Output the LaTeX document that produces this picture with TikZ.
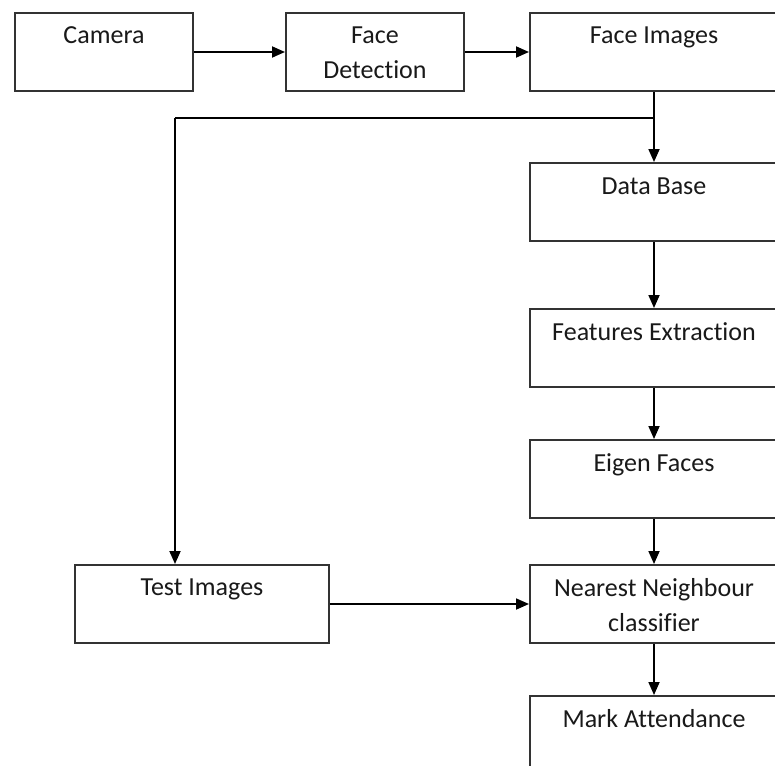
\documentclass[tikz,border=0pt]{standalone}
\usepackage{fontspec}
\setmainfont{Carlito}[Ligatures=NoCommon]
\usetikzlibrary{arrows.meta}
\begin{document}
\begin{tikzpicture}[x=1pt,y=-1pt,
  box/.style={draw=black!80,line width=2pt,minimum width=#1,minimum height=78pt,inner sep=0pt,anchor=north west},
  lbl/.style={anchor=base,inner sep=0pt,text=black!90,font=\fontsize{26}{35}\selectfont},
  arr/.style={line width=1.8pt,-{Triangle[length=13pt,width=11pt]}},
  ln/.style={line width=1.8pt}]
\clip (0,0) rectangle (775,765);
\fill[white] (0,0) rectangle (775,765);
% boxes
\node[box=178pt] (cam) at (14,12) {};
\node[box=178pt] (fd) at (285,12) {};
\node[box=248pt] (fi) at (529,12) {};
\node[box=248pt] (db) at (529,162) {};
\node[box=248pt] (fe) at (529,308) {};
\node[box=248pt] (ef) at (529,439) {};
\node[box=248pt] (nn) at (529,564) {};
\node[box=248pt] (ma) at (529,695) {};
\node[box=254pt] (ti) at (74,564) {};
% labels
\node[lbl] (camt) at ([yshift=-32pt]cam.north) {Camera};
\node[lbl] (fdt1) at ([yshift=-32pt]fd.north) {Face};
\node[lbl] (fdt2) at ([yshift=-67pt]fd.north) {Detection};
\node[lbl] (fit) at ([yshift=-32pt]fi.north) {Face Images};
\node[lbl] (dbt) at ([yshift=-32pt]db.north) {Data Base};
\node[lbl] (fet) at ([yshift=-32pt]fe.north) {Features Extraction};
\node[lbl] (eft) at ([yshift=-32pt]ef.north) {Eigen Faces};
\node[lbl] (nnt1) at ([yshift=-32pt]nn.north) {Nearest Neighbour};
\node[lbl] (nnt2) at ([yshift=-67pt]nn.north) {classifier};
\node[lbl] (mat) at ([yshift=-32pt]ma.north) {Mark Attendance};
\node[lbl] (tit) at ([yshift=-31pt]ti.north) {Test Images};
% connectors
\draw[arr] (cam.east) -- (fd.west);
\draw[arr] (fd.east) -- (fi.west);
\draw[arr] (fi.south) -- (db.north);
\coordinate (split) at (653,118);
\coordinate (bend) at (175,118);
\draw[ln] (split) -- (bend);
\draw[arr] (bend) -- (bend |- ti.north);
\draw[arr] (db.south) -- (fe.north);
\draw[arr] (fe.south) -- (ef.north);
\draw[arr] (ef.south) -- (nn.north);
\draw[arr] (nn.south) -- (ma.north);
\draw[arr] (ti.east) -- (nn.west);
\end{tikzpicture}
\end{document}
